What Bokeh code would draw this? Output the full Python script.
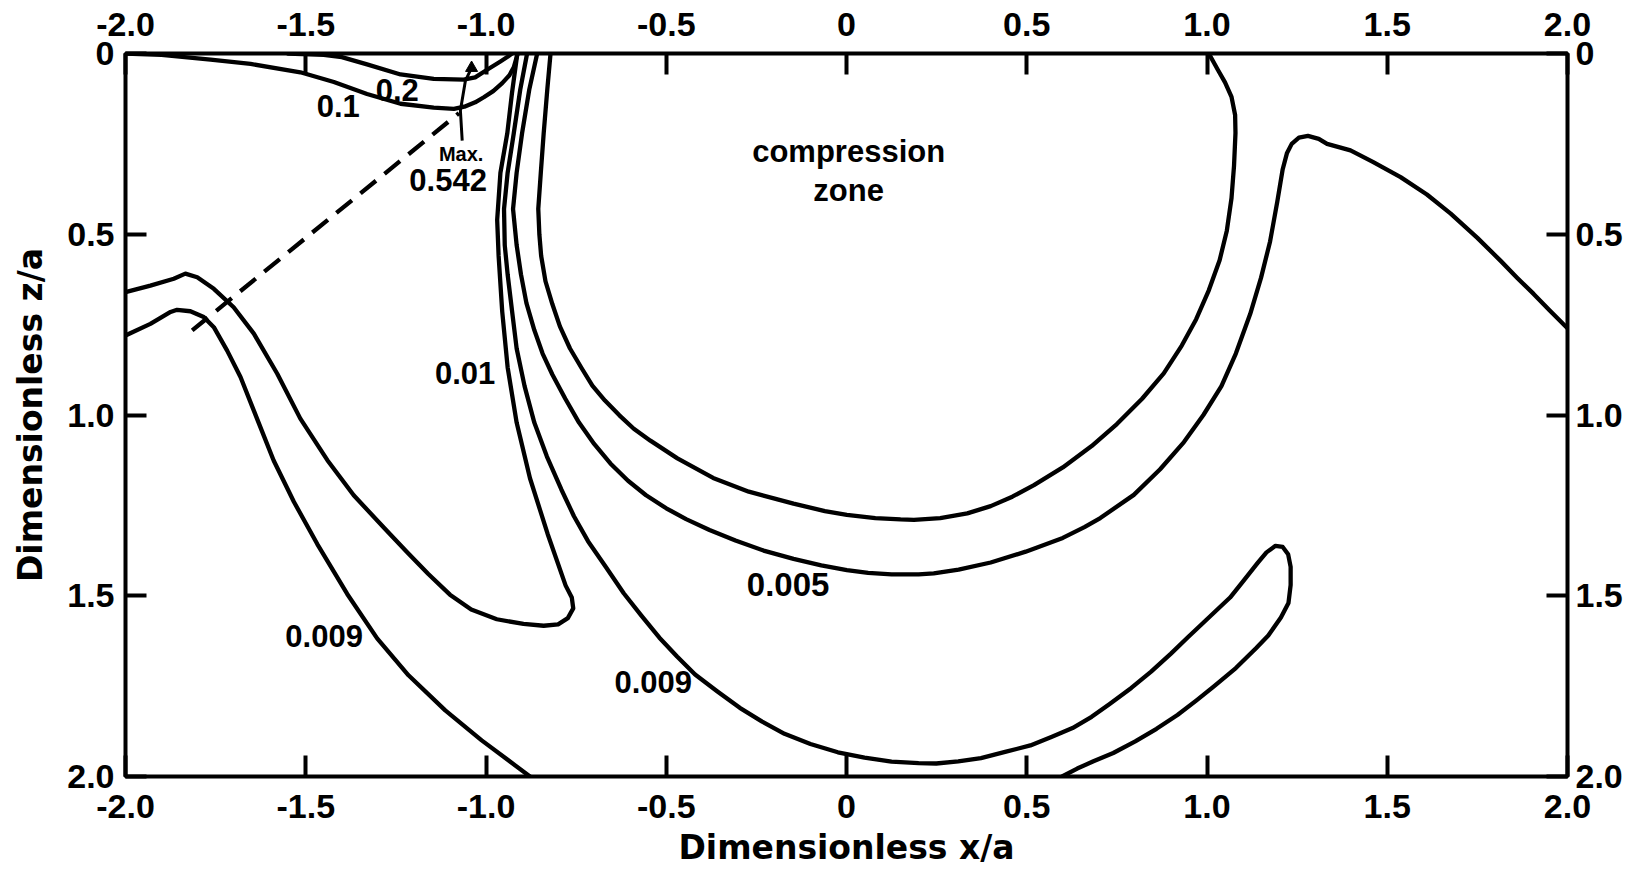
from bokeh.plotting import figure
from bokeh.models import Range1d, LinearAxis, FixedTicker, Label
from bokeh.embed import file_html
from bokeh.resources import INLINE

# ---------------- data (x/a, z/a) ----------------
x_ticks = [-2.0, -1.5, -1.0, -0.5, 0.0, 0.5, 1.0, 1.5, 2.0]
x_tick_labels = ["-2.0", "-1.5", "-1.0", "-0.5", "0", "0.5", "1.0", "1.5", "2.0"]
z_ticks = [0.0, 0.5, 1.0, 1.5, 2.0]
z_tick_labels = ["0", "0.5", "1.0", "1.5", "2.0"]

# contour 0.1
c01_x = [-2.0, -1.90, -1.764, -1.653, -1.515, -1.422, -1.330, -1.237, -1.145, -1.089,
         -1.060, -1.030, -1.006, -0.980, -0.955, -0.935, -0.923, -0.912]
c01_z = [0.0, 0.004, 0.017, 0.029, 0.052, 0.079, 0.112, 0.139, 0.150, 0.153,
         0.147, 0.135, 0.121, 0.104, 0.082, 0.060, 0.038, 0.0]

# contour 0.2
c02_x = [-1.55, -1.45, -1.40, -1.33, -1.237, -1.145, -1.062, -1.030, -0.997, -0.960, -0.940, -0.928]
c02_z = [0.0, 0.004, 0.010, 0.030, 0.058, 0.070, 0.072, 0.066, 0.045, 0.022, 0.009, 0.0]

# contour 0.01 (left, U-turn, up to the surface)
c001_x = [-2.0, -1.931, -1.866, -1.834, -1.801, -1.755, -1.700, -1.644, -1.579, -1.515,
          -1.440, -1.367, -1.283, -1.220, -1.160, -1.100, -1.041, -0.970, -0.896, -0.840,
          -0.800, -0.773, -0.758, -0.762, -0.779, -0.829, -0.878, -0.915, -0.940, -0.955,
          -0.965, -0.969, -0.960, -0.941, -0.928, -0.913]
c001_z = [0.660, 0.642, 0.623, 0.609, 0.619, 0.651, 0.702, 0.775, 0.886, 1.010,
          1.125, 1.222, 1.312, 1.378, 1.440, 1.497, 1.538, 1.565, 1.578, 1.583,
          1.579, 1.562, 1.535, 1.505, 1.472, 1.329, 1.175, 1.021, 0.868, 0.714,
          0.560, 0.460, 0.330, 0.221, 0.110, 0.0]

# contour 0.009 (lower left)
c009a_x = [-2.0, -1.931, -1.875, -1.857, -1.820, -1.783, -1.755, -1.718, -1.681, -1.644,
           -1.589, -1.533, -1.468, -1.385, -1.302, -1.215, -1.113, -1.012, -0.878]
c009a_z = [0.780, 0.748, 0.715, 0.709, 0.713, 0.729, 0.757, 0.822, 0.895, 0.988,
           1.126, 1.240, 1.357, 1.495, 1.618, 1.720, 1.817, 1.900, 2.0]

# contour 0.009 (middle, loop down to the bottom)
c009b_x = [-0.886, -0.905, -0.923, -0.940, -0.950, -0.948, -0.940, -0.928, -0.915, -0.893,
           -0.866, -0.831, -0.791, -0.756, -0.717, -0.668, -0.618, -0.569, -0.519, -0.470,
           -0.420, -0.358, -0.296, -0.234, -0.172, -0.100, -0.024, 0.050, 0.125, 0.200,
           0.249, 0.310, 0.373, 0.440, 0.510, 0.570, 0.627, 0.680, 0.729, 0.790,
           0.845, 0.900, 0.947, 1.000, 1.064, 1.100, 1.140, 1.165, 1.190, 1.210,
           1.225, 1.232, 1.232, 1.226, 1.205, 1.170, 1.136, 1.080, 1.020, 0.970,
           0.918, 0.860, 0.801, 0.740, 0.685, 0.640, 0.598]
c009b_z = [0.0, 0.100, 0.221, 0.330, 0.430, 0.530, 0.611, 0.710, 0.816, 0.920,
           1.021, 1.115, 1.206, 1.280, 1.349, 1.420, 1.493, 1.555, 1.616, 1.668,
           1.718, 1.765, 1.810, 1.848, 1.882, 1.910, 1.933, 1.948, 1.959, 1.963,
           1.964, 1.958, 1.949, 1.932, 1.914, 1.890, 1.866, 1.835, 1.800, 1.755,
           1.710, 1.660, 1.615, 1.565, 1.505, 1.460, 1.410, 1.380, 1.362, 1.365,
           1.385, 1.420, 1.470, 1.520, 1.560, 1.610, 1.645, 1.700, 1.750, 1.790,
           1.830, 1.868, 1.903, 1.935, 1.958, 1.978, 2.0]

# contour 0.005
c005_x = [-0.858, -0.880, -0.900, -0.915, -0.925, -0.915, -0.903, -0.888, -0.866, -0.843,
          -0.816, -0.780, -0.742, -0.700, -0.655, -0.606, -0.556, -0.500, -0.445, -0.380,
          -0.308, -0.230, -0.147, -0.070, 0.001, 0.060, 0.125, 0.200, 0.242, 0.311,
          0.400, 0.497, 0.600, 0.660, 0.704, 0.797, 0.870, 0.936, 0.990, 1.040,
          1.080, 1.120, 1.150, 1.175, 1.195, 1.210, 1.222, 1.235, 1.255, 1.280,
          1.310, 1.333, 1.398, 1.460, 1.537, 1.610, 1.676, 1.750, 1.814, 1.860,
          1.906, 1.950, 2.0]
c005_z = [0.0, 0.100, 0.221, 0.330, 0.430, 0.530, 0.611, 0.690, 0.765, 0.830,
          0.888, 0.955, 1.021, 1.080, 1.134, 1.182, 1.222, 1.258, 1.288, 1.318,
          1.347, 1.375, 1.398, 1.416, 1.429, 1.437, 1.441, 1.441, 1.438, 1.428,
          1.408, 1.378, 1.340, 1.310, 1.285, 1.221, 1.150, 1.075, 1.000, 0.920,
          0.830, 0.720, 0.620, 0.520, 0.410, 0.320, 0.275, 0.250, 0.233, 0.228,
          0.236, 0.250, 0.268, 0.300, 0.342, 0.390, 0.443, 0.510, 0.573, 0.620,
          0.665, 0.710, 0.760]

# boundary of the compression zone
cz_x = [-0.821, -0.830, -0.840, -0.848, -0.855, -0.852, -0.847, -0.835, -0.816, -0.795,
        -0.767, -0.735, -0.705, -0.670, -0.630, -0.590, -0.544, -0.469, -0.370, -0.271,
        -0.147, -0.060, 0.001, 0.080, 0.150, 0.187, 0.260, 0.335, 0.400, 0.460,
        0.520, 0.600, 0.680, 0.750, 0.820, 0.880, 0.930, 0.970, 1.005, 1.035,
        1.055, 1.068, 1.075, 1.079, 1.078, 1.068, 1.050, 1.030, 1.005]
cz_z = [0.0, 0.100, 0.221, 0.330, 0.430, 0.500, 0.560, 0.630, 0.693, 0.755,
        0.816, 0.870, 0.919, 0.960, 1.001, 1.038, 1.071, 1.120, 1.174, 1.212,
        1.245, 1.266, 1.276, 1.285, 1.289, 1.290, 1.285, 1.272, 1.252, 1.226,
        1.194, 1.145, 1.086, 1.025, 0.955, 0.885, 0.808, 0.735, 0.655, 0.572,
        0.490, 0.400, 0.310, 0.220, 0.170, 0.120, 0.080, 0.045, 0.0]

# dashed line and leader of the maximum
dash_x = [-1.815, -1.075]
dash_z = [0.766, 0.165]
lead_x = [-1.066, -1.071, -1.057, -1.040]
lead_z = [0.241, 0.158, 0.075, 0.040]

# ---------------- figure ----------------
TFONT = "DejaVu Sans"
NFONT = "Liberation Sans"
p = figure(width=1645, height=870, output_backend="svg", toolbar_location=None,
           x_range=Range1d(-2.0, 2.0), y_range=Range1d(2.0, 0.0),
           min_border_left=125, min_border_right=78, min_border_top=53, min_border_bottom=94,
           background_fill_color="white", border_fill_color="white")
p.grid.visible = False
p.outline_line_color = "black"
p.outline_line_width = 4

p.add_layout(LinearAxis(), "above")
p.add_layout(LinearAxis(), "right")

for ax in p.xaxis:
    ax.ticker = FixedTicker(ticks=x_ticks)
    ax.major_label_overrides = {t: s for t, s in zip(x_ticks, x_tick_labels)}
for ax in p.yaxis:
    ax.ticker = FixedTicker(ticks=z_ticks)
    ax.major_label_overrides = {t: s for t, s in zip(z_ticks, z_tick_labels)}

for ax in p.xaxis + p.yaxis:
    ax.axis_line_color = None
    ax.major_tick_in = 21
    ax.major_tick_out = 0
    ax.major_tick_line_width = 4
    ax.major_tick_line_color = "black"
    ax.minor_tick_line_color = None
    ax.major_label_text_font = NFONT
    ax.major_label_text_font_style = "bold"
    ax.major_label_text_font_size = "34px"
    ax.major_label_text_color = "black"
    ax.axis_label_text_font = TFONT
    ax.axis_label_text_font_style = "bold"
    ax.axis_label_text_font_size = "33px"
    ax.axis_label_text_color = "black"

p.below[0].axis_label = "Dimensionless x/a"
p.below[0].major_label_standoff = 18
p.below[0].axis_label_standoff = 7
p.above[0].major_label_standoff = 18
p.left[0].axis_label = "Dimensionless z/a"
p.left[0].major_label_standoff = 11
p.left[0].axis_label_standoff = 14
p.right[0].major_label_standoff = 8

LW = 4.3
for xs, zs in [(c01_x, c01_z), (c02_x, c02_z), (c001_x, c001_z), (c009a_x, c009a_z),
               (c009b_x, c009b_z), (c005_x, c005_z), (cz_x, cz_z)]:
    p.line(xs, zs, line_color="black", line_width=LW, line_join="round", line_cap="round")

p.line(dash_x, dash_z, line_color="black", line_width=LW, line_dash="20 11")
p.line(lead_x, lead_z, line_color="black", line_width=3)
p.scatter([lead_x[-1]], [lead_z[-1]], marker="triangle", size=12, color="black")

def lab(x, z, text, size="31px"):
    p.add_layout(Label(x=x, y=z, text=text, text_font=NFONT, text_font_size=size,
                       text_font_style="bold", text_align="center", text_baseline="middle",
                       text_color="black"))

lab(-1.41, 0.145, "0.1")
lab(-1.246, 0.100, "0.2")
lab(-1.069, 0.277, "Max.", size="20px")
lab(-1.105, 0.349, "0.542", size="31px")
lab(0.006, 0.272, "compression", size="31px")
lab(0.006, 0.378, "zone", size="31px")
lab(-1.058, 0.883, "0.01")
lab(-0.162, 1.470, "0.005", size="33px")
lab(-1.449, 1.611, "0.009")
lab(-0.536, 1.738, "0.009")

open("out.html", "w").write(file_html(p, INLINE))
